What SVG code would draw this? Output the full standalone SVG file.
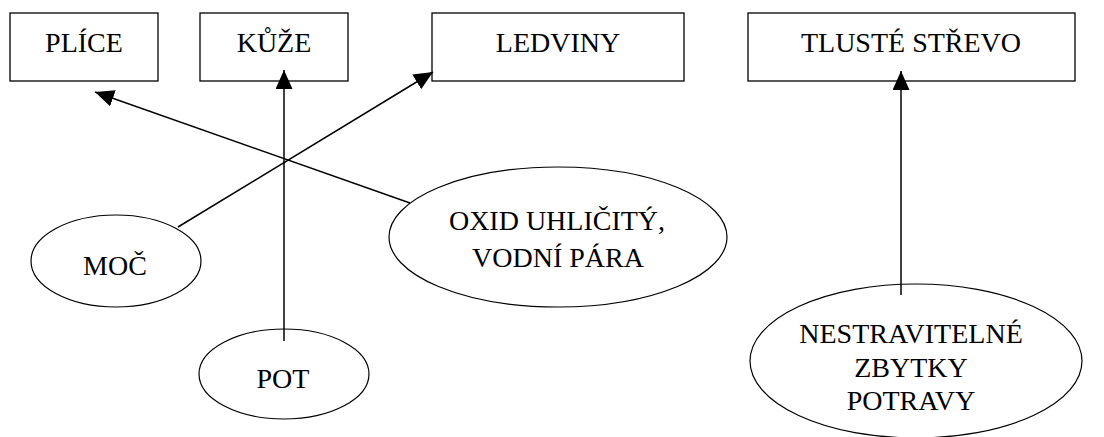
<svg xmlns="http://www.w3.org/2000/svg" width="1104" height="437" viewBox="0 0 1104 437">
<style>
.box{fill:#fff;stroke:#000;stroke-width:1.3}
.ell{fill:#fff;stroke:#000;stroke-width:1.2}
.t{font-size:28px;fill:#000;text-anchor:middle}
.c{stroke:#000;stroke-width:1.5;fill:none;marker-end:url(#ah)}
</style>
<defs>
<marker id="ah" markerUnits="userSpaceOnUse" markerWidth="20" markerHeight="18" refX="19" refY="8.5" orient="auto">
<path d="M0,0 L19,8.5 L0,17 z" fill="#000"/>
</marker>
</defs>
<rect width="1104" height="437" fill="#fff"/>
<g id="plice"><rect class="box" x="10" y="13" width="148" height="68"/><text class="t" font-family="Liberation Serif" x="84" y="52">PLÍCE</text></g>
<g id="kuze"><rect class="box" x="200" y="13" width="148" height="68"/><text class="t" font-family="Liberation Serif" x="274" y="52">KŮŽE</text></g>
<g id="ledviny"><rect class="box" x="432" y="13" width="252" height="68"/><text class="t" font-family="Liberation Serif" x="558" y="52">LEDVINY</text></g>
<g id="strevo"><rect class="box" x="748" y="13" width="327" height="68"/><text class="t" font-family="Liberation Serif" x="911" y="52">TLUSTÉ STŘEVO</text></g>
<g id="moc"><ellipse class="ell" cx="116" cy="261" rx="85" ry="46"/><text class="t" font-family="Liberation Serif" x="115" y="275">MOČ</text></g>
<g id="pot"><ellipse class="ell" cx="284" cy="374" rx="85" ry="45"/><text class="t" font-family="Liberation Serif" x="283" y="388">POT</text></g>
<g id="oxid"><ellipse class="ell" cx="558" cy="237" rx="169" ry="70"/><text class="t" font-family="Liberation Serif" x="557" y="230">OXID UHLIČITÝ,</text><text class="t" font-family="Liberation Serif" x="558" y="267">VODNÍ PÁRA</text></g>
<g id="zbytky"><ellipse class="ell" cx="916" cy="361" rx="166" ry="77"/><text class="t" font-family="Liberation Serif" x="911" y="343">NESTRAVITELNÉ</text><text class="t" font-family="Liberation Serif" x="911" y="377">ZBYTKY</text><text class="t" font-family="Liberation Serif" x="911" y="410">POTRAVY</text></g>
<g id="connectors">
<line class="c" x1="410" y1="203" x2="95" y2="92"/>
<line class="c" x1="284" y1="341" x2="284" y2="70"/>
<line class="c" x1="178" y1="227" x2="433" y2="72"/>
<line class="c" x1="901" y1="295" x2="901" y2="71"/>
</g>
</svg>
